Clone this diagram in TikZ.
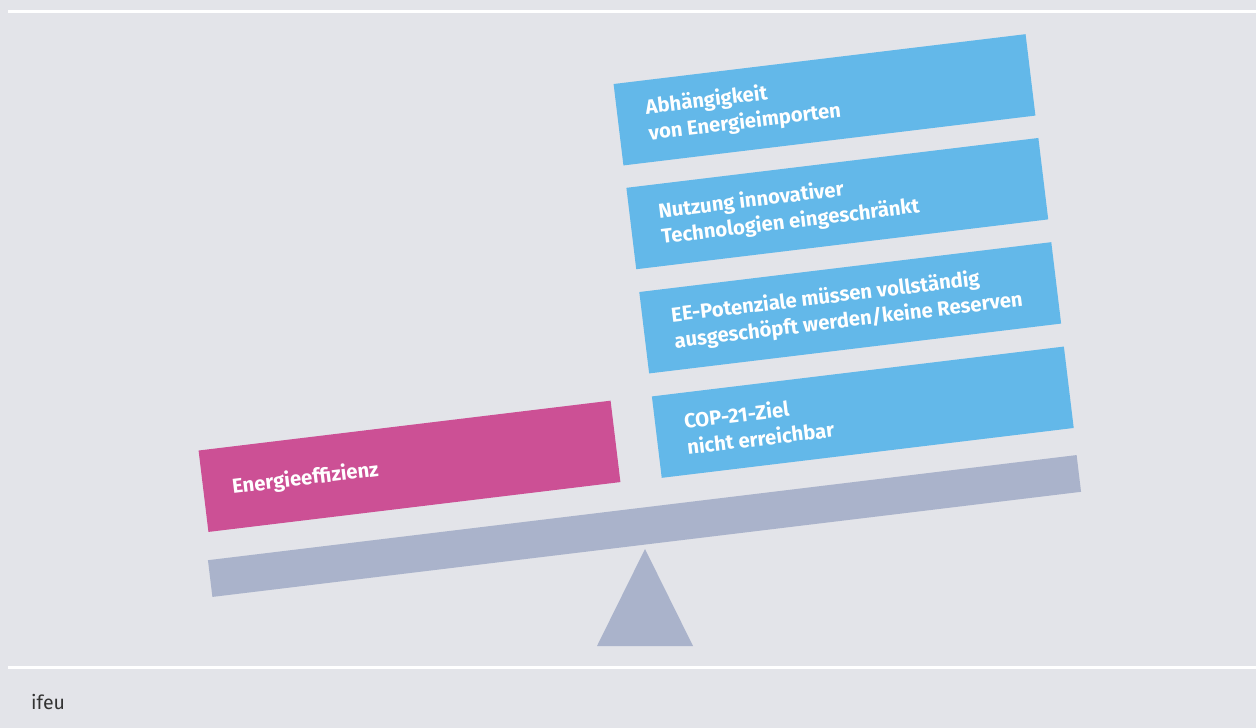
\documentclass[tikz,border=0pt]{standalone}
\usepackage{fontspec}
\setmainfont{Fira Sans}
\usepackage{tikz}
\usetikzlibrary{calc}
\definecolor{PanelGray}{HTML}{E3E4E9}
\definecolor{BoxBlue}{HTML}{63B8E9}
\definecolor{BoxPink}{HTML}{CC5095}
\definecolor{BeamGray}{HTML}{AAB3CB}
\definecolor{NoteGray}{HTML}{333333}
\tikzset{
  slab/.style={
    rotate=6.9,
    inner sep=0pt,
    minimum width=415pt,
    minimum height=82pt
  },
  bluebox/.style={
    slab,
    fill=BoxBlue
  },
  pinkbox/.style={
    slab,
    fill=BoxPink
  },
  boxtext/.style={
    rotate=6.9,
    anchor=west,
    inner sep=0pt,
    align=left,
    text=white,
    font=\fontsize{20.3}{26}\selectfont\bfseries
  },
  beam/.style={
    rotate=6.9,
    fill=BeamGray,
    inner sep=0pt,
    minimum width=875pt,
    minimum height=37pt
  },
  rule/.style={
    draw=white,
    line width=3.5pt
  }
}

\begin{document}
\begin{tikzpicture}[x=1pt,y=-1pt]

  \useasboundingbox (0,0) rectangle (1256,728);
  \fill[PanelGray] (0,0) rectangle (1256,728);

  % frame lines
  \coordinate (topL) at (8,11.5);
  \coordinate (topR) at (1256,11.5);
  \coordinate (botL) at (8,667.5);
  \coordinate (botR) at (1256,667.5);
  \draw[rule] (topL) -- (topR);
  \draw[rule] (botL) -- (botR);

  % seesaw
  \coordinate (tip) at (645,549);
  \coordinate (baseL) at (597,646);
  \coordinate (baseR) at (693,646);
  \fill[BeamGray] (tip) -- (baseR) -- (baseL) -- cycle;
  \node[beam] (lever) at (644.5,526) {};

  % left side
  \node[pinkbox] (effizienz) at (409.5,466.3) {};

  % right side
  \node[bluebox] (importe) at (824.5,99.8) {};
  \node[bluebox] (technik) at (837.3,203.6) {};
  \node[bluebox] (potenziale) at (850.2,307.8) {};
  \node[bluebox] (cop) at (862.8,412.2) {};

  \node[boxtext] at ($(effizienz.west)!29pt!(effizienz.east)$) {
    Energieeffizienz
  };
  \node[boxtext] at ($(importe.west)!29pt!(importe.east)$) {
    Abhängigkeit\\
    von Energieimporten
  };
  \node[boxtext] at ($(technik.west)!29pt!(technik.east)$) {
    Nutzung innovativer\\
    Technologien eingeschränkt
  };
  \node[boxtext] at ($(potenziale.west)!29pt!(potenziale.east)$) {
    EE-Potenziale müssen vollständig\\
    ausgeschöpft werden/keine Reserven
  };
  \node[boxtext] at ($(cop.west)!29pt!(cop.east)$) {
    COP-21-Ziel\\
    nicht erreichbar
  };

  % source
  \node[
    anchor=base west,
    inner sep=0pt,
    text=NoteGray,
    font=\fontsize{19.5}{22}\selectfont
  ] (quelle) at (31,709) {ifeu};

\end{tikzpicture}
\end{document}
